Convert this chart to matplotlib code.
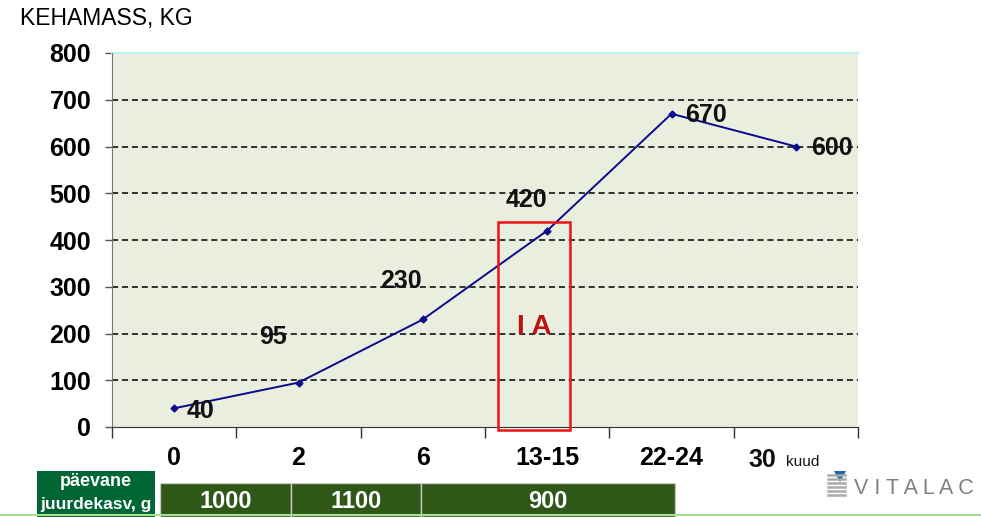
import matplotlib
matplotlib.use("Agg")
import matplotlib.pyplot as plt
from matplotlib.patches import Rectangle, Polygon

plt.rcParams['font.family'] = ['Liberation Sans', 'DejaVu Sans']

ages = ["0", "2", "6", "13-15", "22-24", "30"]
weights = [40, 95, 230, 420, 670, 600]
# label offsets in points (dx, dy) for the value labels
label_offsets = [(19, -2), (-18, 33), (-16, 28), (-15, 22), (25, -1), (26, -1)]

gain_labels = ["1000", "1100", "900"]
gain_edges = [-0.11, 0.94, 1.985, 4.03]

W, H = 981, 517
fig = plt.figure(figsize=(W / 100, H / 100), dpi=100)

ax = fig.add_axes([112 / W, 90 / H, 746 / W, 374 / H])
ax.set_facecolor('#EAEEDF')
x = list(range(len(ages)))
ax.plot(x, weights, color='#0A0A8C', lw=1.4, marker='D', ms=3.5, zorder=3)
for xi, v, (dx, dy) in zip(x, weights, label_offsets):
    ax.annotate(str(v), (xi, v), xytext=(dx, dy), textcoords='offset points',
                ha='center', va='center', fontsize=18, fontweight='bold', color='#111111')

ax.set_xlim(-0.5, 5.5)
ax.set_ylim(0, 800)
ax.set_yticks(range(0, 801, 100))
ax.tick_params(axis='y', labelsize=18, length=5, width=1, color='#555555', pad=10)
for lbl in ax.get_yticklabels():
    lbl.set_fontweight('bold')
ax.set_xticks([i - 0.5 for i in range(len(ages) + 1)])
ax.set_xticklabels([])
ax.set_xticks(x, minor=True)
# last category label is drawn together with the unit
ax.set_xticklabels(ages[:-1] + [""], minor=True, fontsize=18, fontweight='bold')
ax.tick_params(axis='x', which='major', length=8, width=1, color='#333333')
ax.tick_params(axis='x', which='minor', length=0, pad=14)
for yv in range(100, 800, 100):
    ax.axhline(yv, color='black', lw=1.1, ls=(0, (4, 2.5)), zorder=1)
for s in ['top', 'right']:
    ax.spines[s].set_visible(False)
ax.spines['left'].set_color('#777777')
ax.spines['bottom'].set_color('#333333')
ax.plot([0, 1], [1, 1], transform=ax.transAxes, color='#BFF4F4', lw=1.5, clip_on=False)

# IA frame
ax.add_patch(Rectangle((2.605, -7), 0.58, 445, fill=False, ec='#EE1111', lw=1.8,
                       clip_on=False, zorder=4))
ax.text(2.895, 214, "I A", ha='center', va='center', fontsize=20, fontweight='bold',
        color='#C01010', zorder=4)

fig.text(20 / W, 1 - 18 / H, "KEHAMASS, KG", fontsize=16.5, va='center', ha='left')
fig.text(762 / W, 1 - 460 / H, ages[-1], fontsize=18, fontweight='bold',
         va='center', ha='center', color='#111111')
fig.text(786 / W, 1 - 462 / H, "kuud", fontsize=11, va='center', ha='left', color='#111111')

# daily gain strip
tab = fig.add_axes([112 / W, 0, 746 / W, 34 / H])
tab.set_xlim(-0.5, 5.5)
tab.set_ylim(0, 1)
tab.axis('off')
for i, lbl in enumerate(gain_labels):
    l, r = gain_edges[i], gain_edges[i + 1]
    tab.add_patch(Rectangle((l, 0), r - l, 1, fc='#2E5718', ec='#C8C8C8', lw=1))
    tab.text((l + r) / 2, 0.47, lbl, ha='center', va='center', color='white',
             fontsize=17, fontweight='bold')

fig.patches.append(Rectangle((37 / W, 0), 118 / W, 46 / H, transform=fig.transFigure,
                             fc='#006633', ec='none'))
fig.text(96 / W, 1 - 482 / H, "päevane", color='white', fontsize=13, fontweight='bold',
         ha='center', va='center')
fig.text(96 / W, 1 - 505 / H, "juurdekasv, g", color='white', fontsize=12.5, fontweight='bold',
         ha='center', va='center')
fig.add_artist(plt.Line2D([0, 1], [2 / H, 2 / H], color='#A8E090', lw=1.5))

# logo
for k in range(6):
    yy = 1 - (475 + k * 4) / H
    fig.add_artist(plt.Line2D([828 / W, 845 / W], [yy, yy], color='#AAAAAA', lw=1.8))
fig.patches.append(Polygon([(834 / W, 1 - 471 / H), (846 / W, 1 - 471 / H), (840 / W, 1 - 482 / H)],
                           closed=True, transform=fig.transFigure, fc='#1E63B0', ec='none'))
fig.text(854 / W, 1 - 488 / H, "V I T A L A C", color='#808080', fontsize=15.5,
         ha='left', va='center')

fig.savefig("out.png", dpi=100)
